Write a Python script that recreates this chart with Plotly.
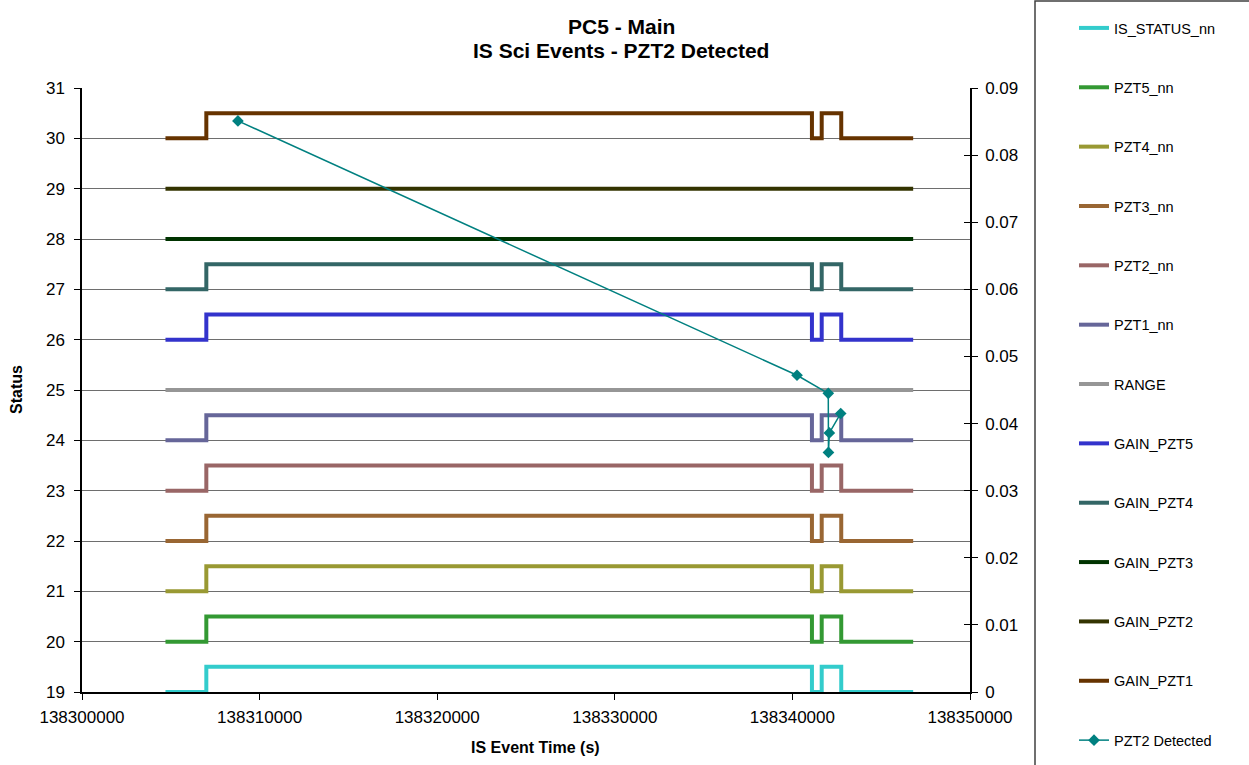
import plotly.graph_objects as go

# ---- data ----
times = [138304700, 138307000, 138341100, 138341650, 138342750, 138346800]

is_status = [19, 19.5, 19, 19.5, 19, 19]
pzt5 = [20, 20.5, 20, 20.5, 20, 20]
pzt4 = [21, 21.5, 21, 21.5, 21, 21]
pzt3 = [22, 22.5, 22, 22.5, 22, 22]
pzt2 = [23, 23.5, 23, 23.5, 23, 23]
pzt1 = [24, 24.5, 24, 24.5, 24, 24]
range_ = [25, 25, 25, 25, 25, 25]
gain_pzt5 = [26, 26.5, 26, 26.5, 26, 26]
gain_pzt4 = [27, 27.5, 27, 27.5, 27, 27]
gain_pzt3 = [28, 28, 28, 28, 28, 28]
gain_pzt2 = [29, 29, 29, 29, 29, 29]
gain_pzt1 = [30, 30.5, 30, 30.5, 30, 30]

det_times = [138308780, 138340260, 138342020, 138342030, 138342080, 138342720]
det_values = [0.0851, 0.0472, 0.0445, 0.0357, 0.0386, 0.0415]

series = [
    ("IS_STATUS_nn", is_status, "#33CCCC"),
    ("PZT5_nn", pzt5, "#339933"),
    ("PZT4_nn", pzt4, "#999933"),
    ("PZT3_nn", pzt3, "#996633"),
    ("PZT2_nn", pzt2, "#996666"),
    ("PZT1_nn", pzt1, "#666699"),
    ("RANGE", range_, "#969696"),
    ("GAIN_PZT5", gain_pzt5, "#3333CC"),
    ("GAIN_PZT4", gain_pzt4, "#336666"),
    ("GAIN_PZT3", gain_pzt3, "#003300"),
    ("GAIN_PZT2", gain_pzt2, "#333300"),
    ("GAIN_PZT1", gain_pzt1, "#663300"),
]

FONT = "Liberation Sans, Arial, sans-serif"

fig = go.Figure()
for i, (name, vals, col) in enumerate(series):
    fig.add_trace(go.Scatter(
        x=times, y=vals, name=name, mode="lines",
        line=dict(color=col, width=4, shape="hv"),
        legendgroup=str(i),
    ))

fig.add_trace(go.Scatter(
    x=det_times, y=det_values, name="PZT2 Detected", mode="lines+markers",
    line=dict(color="#008080", width=1.5),
    marker=dict(symbol="diamond", size=9, color="#008080"),
    yaxis="y2", legendgroup="det",
))
# helper trace for inner half of right-axis cross ticks
fig.add_trace(go.Scatter(x=[None], y=[None], yaxis="y3", showlegend=False, hoverinfo="skip"))

W, H = 1249, 765
L, R, T, B = 82, 279, 88, 73
pw = W - L - R
ph = H - T - B

def px_x(p):
    return (p - L) / pw

def px_y(p):
    return (H - B - p) / ph

fig.update_layout(
    width=W, height=H,
    margin=dict(l=L, r=R, t=T, b=B, autoexpand=False),
    paper_bgcolor="white", plot_bgcolor="white",
    font=dict(family=FONT, color="black", size=17),
    xaxis=dict(
        range=[138300000, 138350000], dtick=10000, tick0=138300000,
        tickformat="d", showgrid=False, zeroline=False,
        showline=True, linecolor="black", linewidth=1.5,
        ticks="outside", ticklen=6, tickcolor="black",
        tickfont=dict(size=17), ticklabelstandoff=3,
    ),
    yaxis=dict(
        range=[19, 31], dtick=1, showgrid=True, gridcolor="#6e6e6e", gridwidth=1,
        zeroline=False, showline=True, linecolor="black", linewidth=1.5,
        ticks="outside", ticklen=6, tickcolor="black",
        tickfont=dict(size=17), ticklabelstandoff=6,
    ),
    yaxis2=dict(
        range=[0, 0.09], dtick=0.01, overlaying="y", side="right",
        showgrid=False, zeroline=False, showline=True, linecolor="black", linewidth=1.5,
        ticks="outside", ticklen=6, tickcolor="black",
        tickfont=dict(size=17), tickformat="~g", ticklabelstandoff=4,
    ),
    yaxis3=dict(
        range=[0, 0.09], dtick=0.01, overlaying="y", side="right", anchor="x",
        showgrid=False, zeroline=False, showline=False,
        ticks="inside", ticklen=6, tickcolor="black", showticklabels=False,
    ),
    legend=dict(
        x=px_x(1074), xanchor="left", y=px_y(12), yanchor="top",
        traceorder="grouped", tracegroupgap=37.5,
        font=dict(family=FONT, size=14.5, color="black"),
        bgcolor="rgba(0,0,0,0)", borderwidth=0,
        itemwidth=30, maxheight=760,
    ),
    showlegend=True,
    shapes=[dict(
        type="rect", xref="paper", yref="paper",
        x0=px_x(1035), x1=px_x(1300), y0=px_y(800), y1=px_y(1),
        line=dict(color="#404040", width=1.5), fillcolor="rgba(0,0,0,0)", layer="below",
    )],
    annotations=[
        dict(text="<b>PC5 - Main</b>", xref="paper", yref="paper",
             x=px_x(621), y=px_y(27), showarrow=False,
             xanchor="center", yanchor="middle", font=dict(size=21)),
        dict(text="<b>IS Sci Events - PZT2 Detected</b>", xref="paper", yref="paper",
             x=px_x(621), y=px_y(51), showarrow=False,
             xanchor="center", yanchor="middle", font=dict(size=21)),
        dict(text="<b>Status</b>", xref="paper", yref="paper",
             x=px_x(16), y=px_y(390), textangle=-90, showarrow=False,
             xanchor="center", yanchor="middle", font=dict(size=16)),
        dict(text="<b>IS Event Time (s)</b>", xref="paper", yref="paper",
             x=px_x(535), y=px_y(747), showarrow=False,
             xanchor="center", yanchor="middle", font=dict(size=16)),
    ],
)

fig.write_html("out.html")
